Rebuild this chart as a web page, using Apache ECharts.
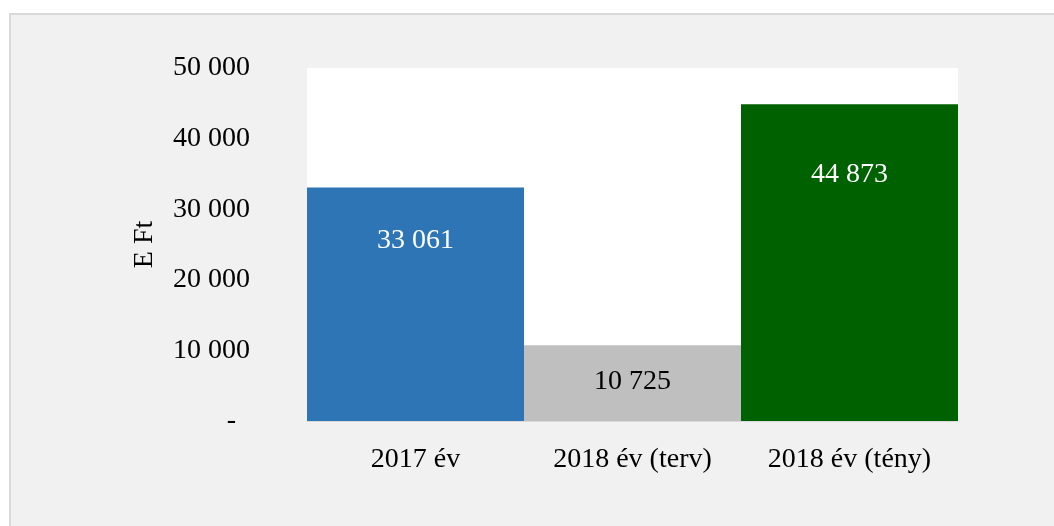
<!DOCTYPE html>
<html>
<head>
<meta charset="utf-8">
<script src="https://cdn.jsdelivr.net/npm/echarts@6/dist/echarts.min.js"></script>
<style>
  html, body { margin: 0; padding: 0; background: #fff; }
  #frame {
    position: absolute; left: 9px; top: 13px; width: 1100px; height: 600px;
    background: #f1f1f1; border: 2px solid #d9d9d9; box-sizing: border-box;
  }
  #chart { position: absolute; left: 0; top: 0; width: 1054px; height: 526px; }
</style>
</head>
<body>
<div id="frame"></div>
<div id="chart"></div>
<script>
const categories = ['2017 év', '2018 év (terv)', '2018 év (tény)']
const values = [33061, 10725, 44873]
const barColors = ['#2e75b6', '#bfbfbf', '#006100']
const labelColors = ['#ffffff', '#000000', '#ffffff']
const labelGaps = [39, 22, 56]

const fmt = (v) => (v === 0 ? '-  ' : String(v).replace(/\B(?=(\d{3})+(?!\d))/g, ' '))
const font = '"Liberation Serif", "Times New Roman", serif'
const fs = 28

const chart = echarts.init(document.getElementById('chart'))
const option = {
  backgroundColor: 'transparent',
  textStyle: { fontFamily: font },
  grid: { left: 307, right: 96, top: 68, bottom: 105, backgroundColor: '#ffffff', show: true, borderWidth: 0 },
  xAxis: {
    type: 'category',
    data: categories,
    axisLine: { show: true, lineStyle: { color: '#d9d9d9', width: 1 } },
    axisTick: { show: false },
    axisLabel: { color: '#000', fontSize: fs, fontFamily: font, margin: 25 }
  },
  yAxis: {
    type: 'value',
    min: 0,
    max: 50000,
    interval: 10000,
    name: 'E Ft',
    nameLocation: 'middle',
    nameGap: 148,
    nameTextStyle: { color: '#000', fontSize: fs, fontFamily: font },
    axisLine: { show: false },
    axisTick: { show: false },
    splitLine: { show: false },
    axisLabel: { color: '#000', fontSize: fs, fontFamily: font, margin: 57, formatter: fmt }
  },
  series: [
    {
      type: 'bar',
      barWidth: '100%',
      barCategoryGap: 0,
      data: values.map((v, i) => ({
        value: v,
        itemStyle: { color: barColors[i] },
        label: { color: labelColors[i], distance: labelGaps[i] }
      })),
      label: {
        show: true,
        position: 'insideTop',
        fontSize: fs,
        fontFamily: font,
        formatter: (p) => fmt(p.value)
      }
    }
  ]
}
chart.setOption(option)
</script>
</body>
</html>
